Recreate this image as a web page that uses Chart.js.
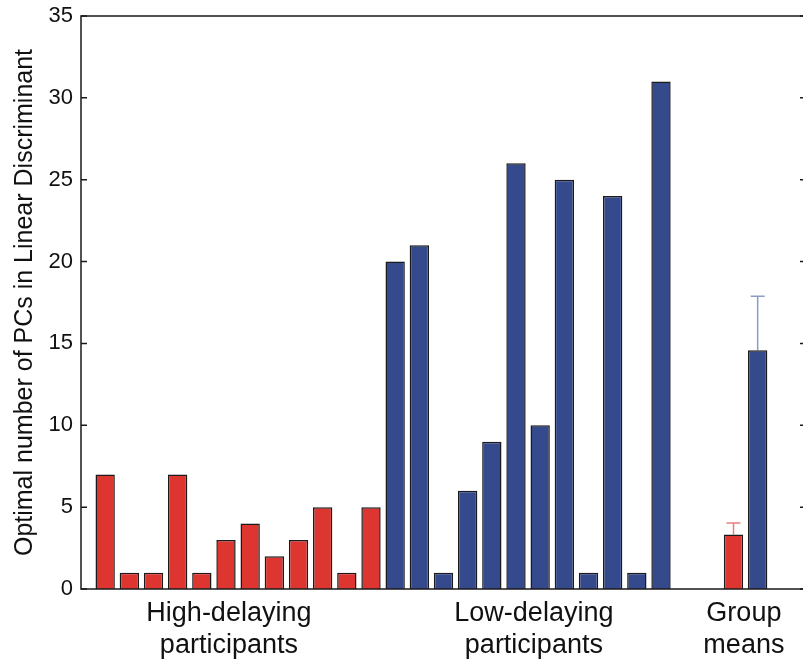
<!DOCTYPE html>
<html>
<head>
<meta charset="utf-8">
<script src="https://cdn.jsdelivr.net/npm/chart.js@4.4.0/dist/chart.umd.min.js"></script>
<style>
  html, body { margin: 0; padding: 0; background: #fff; overflow: hidden; }
  #wrap { width: 812px; height: 667px; }
</style>
</head>
<body>
<div id="wrap"><canvas id="myChart"></canvas></div>
<script>
// values
const highDelaying = [7, 1, 1, 7, 1, 3, 4, 2, 3, 5, 1, 5];
const lowDelaying = [20, 21, 1, 6, 9, 26, 10, 25, 1, 24, 1, 31];
const groupMeans = [3.33, 14.58];   // high, low
const groupErrors = [0.7, 3.3];     // upper error bar only
const yTicks = [0, 5, 10, 15, 20, 25, 30, 35];
const groupLabels = [['High-delaying', 'participants'], ['Low-delaying', 'participants'], ['Group', 'means']];
const groupLabelSlots = [6.12, 18.74, 27.43];
const meanSlots = [27, 28];

const FONT = '"Liberation Sans", Arial, Helvetica, sans-serif';
const RED = '#dd3530';
const BLUE = '#344a8d';
const errColors = ['#ea7f80', '#8d9bcb'];

const redData = highDelaying.map((v, i) => ({ x: i + 1, y: v }));
redData.push({ x: meanSlots[0], y: groupMeans[0] });
const blueData = lowDelaying.map((v, i) => ({ x: i + 13, y: v }));
blueData.push({ x: meanSlots[1], y: groupMeans[1] });

const errorBars = {
    id: 'errorBars',
    beforeDatasetsDraw: (chart) => {
        const { ctx, scales: { x, y } } = chart;
        ctx.save();
        ctx.lineWidth = 1.5;
        groupMeans.forEach((m, i) => {
            const px = x.getPixelForValue(meanSlots[i]);
            const y0 = y.getPixelForValue(m);
            const y1 = y.getPixelForValue(m + groupErrors[i]);
            ctx.strokeStyle = errColors[i];
            ctx.beginPath();
            ctx.moveTo(px, y0);
            ctx.lineTo(px, y1);
            ctx.moveTo(px - 7, y1);
            ctx.lineTo(px + 7, y1);
            ctx.stroke();
        });
        ctx.restore();
    },
};

const frame = {
    id: 'frame',
    afterDraw: (chart) => {
        const { ctx, chartArea: a, scales: { y } } = chart;
        ctx.save();
        ctx.strokeStyle = '#1a1a1a';
        ctx.lineWidth = 1.5;
        ctx.strokeRect(a.left, a.top, a.right - a.left, a.bottom - a.top);
        ctx.beginPath();
        y.ticks.forEach((t) => {
            const py = y.getPixelForValue(t.value);
            ctx.moveTo(a.left, py);
            ctx.lineTo(a.left + 6, py);
            ctx.moveTo(a.right, py);
            ctx.lineTo(a.right - 6, py);
        });
        ctx.stroke();
        ctx.restore();
    },
};

const ctx = document.getElementById('myChart').getContext('2d');
const myChart = new Chart(ctx, {
    type: 'bar',
    data: {
        datasets: [
            {
                label: 'High-delaying',
                data: redData,
                backgroundColor: RED,
                borderColor: '#1a1a1a',
                borderWidth: 1.5,
                grouped: false,
                barPercentage: 1,
                categoryPercentage: 0.8,
            },
            {
                label: 'Low-delaying',
                data: blueData,
                backgroundColor: BLUE,
                borderColor: '#1a1a1a',
                borderWidth: 1.5,
                grouped: false,
                barPercentage: 1,
                categoryPercentage: 0.8,
            },
        ],
    },
    options: {
        animation: false,
        responsive: true,
        maintainAspectRatio: false,
        devicePixelRatio: 1,
        layout: { padding: { top: 16, right: 6, left: 0, bottom: 0 } },
        plugins: {
            legend: { display: false },
            tooltip: { enabled: false },
        },
        scales: {
            x: {
                type: 'linear',
                min: 0,
                max: 30,
                offset: false,
                grid: { display: false, drawTicks: false },
                border: { display: false },
                afterBuildTicks: (s) => {
                    s.ticks = groupLabelSlots.map((v) => ({ value: v }));
                },
                ticks: {
                    autoSkip: false,
                    maxRotation: 0,
                    padding: 9,
                    color: '#111',
                    font: { family: FONT, size: 27, lineHeight: 1.18 },
                    callback: (v, i) => groupLabels[i],
                },
                afterFit: (s) => {
                    s.height = 78;
                    s.paddingLeft = 0;
                    s.paddingRight = 0;
                },
            },
            y: {
                min: 0,
                max: 35,
                grid: { display: false, drawTicks: false },
                border: { display: false },
                afterBuildTicks: (s) => {
                    s.ticks = yTicks.map((v) => ({ value: v }));
                },
                ticks: {
                    padding: 8,
                    color: '#111',
                    font: { family: FONT, size: 22 },
                },
                title: {
                    display: true,
                    text: 'Optimal number of PCs in Linear Discriminant',
                    color: '#111',
                    font: { family: FONT, size: 25 },
                    padding: { top: 10, bottom: 0 },
                },
                afterFit: (s) => {
                    s.width = 81;
                    s.paddingTop = 0;
                    s.paddingBottom = 0;
                },
            },
        },
    },
    plugins: [errorBars, frame],
});
</script>
</body>
</html>
